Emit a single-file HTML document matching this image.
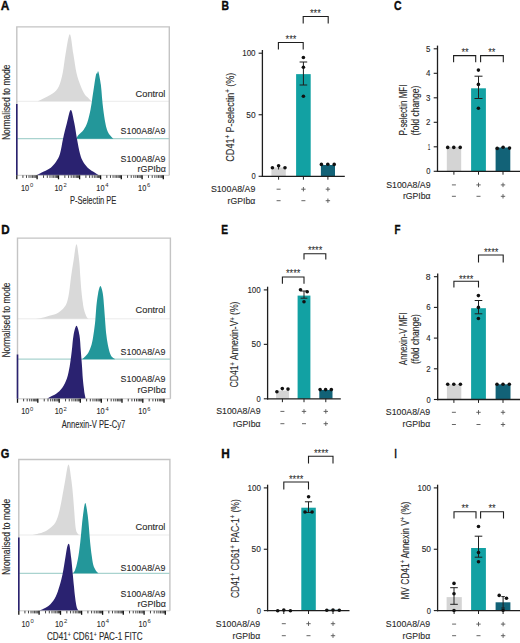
<!DOCTYPE html>
<html><head><meta charset="utf-8"><style>
html,body{margin:0;padding:0;background:#fff;}
body{width:520px;height:643px;overflow:hidden;}
svg{display:block;font-family:"Liberation Sans", sans-serif;}
</style></head><body>
<svg width="520" height="643" viewBox="0 0 520 643">
<rect width="520" height="643" fill="#fff"/>
<text x="0.80" y="10.30" font-size="12" text-anchor="start" font-weight="bold" fill="#0a0a0a" stroke="#0a0a0a" stroke-width="0.35" textLength="8.60" lengthAdjust="spacingAndGlyphs">A</text>
<text x="221.40" y="10.30" font-size="12" text-anchor="start" font-weight="bold" fill="#0a0a0a" stroke="#0a0a0a" stroke-width="0.35" textLength="7.50" lengthAdjust="spacingAndGlyphs">B</text>
<text x="394.00" y="10.40" font-size="12" text-anchor="start" font-weight="bold" fill="#0a0a0a" stroke="#0a0a0a" stroke-width="0.35" textLength="7.60" lengthAdjust="spacingAndGlyphs">C</text>
<text x="1.20" y="233.60" font-size="12" text-anchor="start" font-weight="bold" fill="#0a0a0a" stroke="#0a0a0a" stroke-width="0.35" textLength="8.40" lengthAdjust="spacingAndGlyphs">D</text>
<text x="221.30" y="233.60" font-size="12" text-anchor="start" font-weight="bold" fill="#0a0a0a" stroke="#0a0a0a" stroke-width="0.35" textLength="6.80" lengthAdjust="spacingAndGlyphs">E</text>
<text x="394.50" y="233.60" font-size="12" text-anchor="start" font-weight="bold" fill="#0a0a0a" stroke="#0a0a0a" stroke-width="0.35" textLength="6.00" lengthAdjust="spacingAndGlyphs">F</text>
<text x="0.80" y="457.70" font-size="12" text-anchor="start" font-weight="bold" fill="#0a0a0a" stroke="#0a0a0a" stroke-width="0.35" textLength="8.60" lengthAdjust="spacingAndGlyphs">G</text>
<text x="221.30" y="457.70" font-size="12" text-anchor="start" font-weight="bold" fill="#0a0a0a" stroke="#0a0a0a" stroke-width="0.35" textLength="8.50" lengthAdjust="spacingAndGlyphs">H</text>
<text x="394.50" y="457.70" font-size="12" text-anchor="start" font-weight="bold" fill="#0a0a0a" stroke="#0a0a0a" stroke-width="0.35" textLength="2.20" lengthAdjust="spacingAndGlyphs">I</text>
<line x1="16.80" y1="101.30" x2="169.30" y2="101.30" stroke="#ebebeb" stroke-width="1"/>
<path d="M37.70,101.30 L37.70,101.30 C38.82,100.75 41.85,99.33 44.40,98.00 C46.95,96.67 50.60,95.22 53.00,93.30 C55.40,91.38 57.18,89.88 58.80,86.50 C60.42,83.12 61.57,78.45 62.70,73.00 C63.83,67.55 64.42,60.27 65.60,53.80 C66.78,47.33 68.52,34.20 69.80,34.20 C71.08,34.20 72.18,47.33 73.30,53.80 C74.42,60.27 75.30,67.72 76.50,73.00 C77.70,78.28 79.17,82.00 80.50,85.50 C81.83,89.00 83.17,91.88 84.50,94.00 C85.83,96.12 87.33,96.98 88.50,98.20 C89.67,99.42 91.00,100.78 91.50,101.30 L91.50,101.30 Z" fill="#d9d9d9"/>
<line x1="16.80" y1="138.70" x2="169.30" y2="138.70" stroke="#a9d3cf" stroke-width="1.2"/>
<path d="M76.20,138.70 L76.20,138.50 C76.62,137.87 77.45,136.17 78.70,134.70 C79.95,133.23 82.25,131.77 83.70,129.70 C85.15,127.63 86.27,125.62 87.40,122.30 C88.53,118.98 89.67,113.95 90.50,109.80 C91.33,105.65 91.77,101.55 92.40,97.40 C93.03,93.25 93.68,88.75 94.30,84.90 C94.92,81.05 95.62,76.18 96.10,74.30 C96.58,72.42 96.82,74.02 97.20,73.60 C97.58,73.18 97.78,69.92 98.40,71.80 C99.02,73.68 100.30,80.63 100.90,84.90 C101.50,89.17 101.60,93.25 102.00,97.40 C102.40,101.55 102.77,105.65 103.30,109.80 C103.83,113.95 104.58,118.98 105.20,122.30 C105.82,125.62 106.27,127.63 107.00,129.70 C107.73,131.77 108.57,133.23 109.60,134.70 C110.63,136.17 112.60,137.87 113.20,138.50 L113.20,138.70 Z" fill="#23979a"/>
<path d="M36.00,175.30 L36.00,175.40 C37.30,174.75 41.33,172.78 43.80,171.50 C46.27,170.22 48.73,169.37 50.80,167.70 C52.87,166.03 54.67,163.82 56.20,161.50 C57.73,159.18 58.85,157.63 60.00,153.80 C61.15,149.97 61.95,143.63 63.10,138.50 C64.25,133.37 65.62,127.75 66.90,123.00 C68.18,118.25 69.57,110.00 70.80,110.00 C72.03,110.00 73.28,118.25 74.30,123.00 C75.32,127.75 75.95,133.37 76.90,138.50 C77.85,143.63 78.98,149.97 80.00,153.80 C81.02,157.63 81.72,159.18 83.00,161.50 C84.28,163.82 86.03,166.03 87.70,167.70 C89.37,169.37 91.08,170.22 93.00,171.50 C94.92,172.78 98.17,174.75 99.20,175.40 L99.20,175.30 Z" fill="#2a2270"/>
<path d="M16.80,175.30 L16.80,26.90 L169.30,26.90 L169.30,175.30" fill="none" stroke="#c4c4c4" stroke-width="1.4"/>
<line x1="16.80" y1="175.30" x2="169.30" y2="175.30" stroke="#bbbbbb" stroke-width="0.8"/>
<line x1="16.80" y1="104.00" x2="16.80" y2="175.30" stroke="#2a2270" stroke-width="1.6"/>
<line x1="16.80" y1="175.30" x2="16.80" y2="179.30" stroke="#111" stroke-width="1.3"/>
<line x1="22.91" y1="175.30" x2="22.91" y2="177.90" stroke="#222" stroke-width="0.85"/>
<line x1="26.49" y1="175.30" x2="26.49" y2="177.90" stroke="#222" stroke-width="0.85"/>
<line x1="29.02" y1="175.30" x2="29.02" y2="177.90" stroke="#222" stroke-width="0.85"/>
<line x1="30.99" y1="175.30" x2="30.99" y2="177.90" stroke="#222" stroke-width="0.85"/>
<line x1="32.60" y1="175.30" x2="32.60" y2="177.90" stroke="#222" stroke-width="0.85"/>
<line x1="33.96" y1="175.30" x2="33.96" y2="177.90" stroke="#222" stroke-width="0.85"/>
<line x1="35.13" y1="175.30" x2="35.13" y2="177.90" stroke="#222" stroke-width="0.85"/>
<line x1="36.17" y1="175.30" x2="36.17" y2="177.90" stroke="#222" stroke-width="0.85"/>
<line x1="37.10" y1="175.30" x2="37.10" y2="179.30" stroke="#111" stroke-width="1.3"/>
<line x1="43.54" y1="175.30" x2="43.54" y2="177.90" stroke="#222" stroke-width="0.85"/>
<line x1="47.31" y1="175.30" x2="47.31" y2="177.90" stroke="#222" stroke-width="0.85"/>
<line x1="49.98" y1="175.30" x2="49.98" y2="177.90" stroke="#222" stroke-width="0.85"/>
<line x1="52.06" y1="175.30" x2="52.06" y2="177.90" stroke="#222" stroke-width="0.85"/>
<line x1="53.75" y1="175.30" x2="53.75" y2="177.90" stroke="#222" stroke-width="0.85"/>
<line x1="55.19" y1="175.30" x2="55.19" y2="177.90" stroke="#222" stroke-width="0.85"/>
<line x1="56.43" y1="175.30" x2="56.43" y2="177.90" stroke="#222" stroke-width="0.85"/>
<line x1="57.52" y1="175.30" x2="57.52" y2="177.90" stroke="#222" stroke-width="0.85"/>
<line x1="58.50" y1="175.30" x2="58.50" y2="179.30" stroke="#111" stroke-width="1.3"/>
<line x1="64.85" y1="175.30" x2="64.85" y2="177.90" stroke="#222" stroke-width="0.85"/>
<line x1="68.57" y1="175.30" x2="68.57" y2="177.90" stroke="#222" stroke-width="0.85"/>
<line x1="71.20" y1="175.30" x2="71.20" y2="177.90" stroke="#222" stroke-width="0.85"/>
<line x1="73.25" y1="175.30" x2="73.25" y2="177.90" stroke="#222" stroke-width="0.85"/>
<line x1="74.92" y1="175.30" x2="74.92" y2="177.90" stroke="#222" stroke-width="0.85"/>
<line x1="76.33" y1="175.30" x2="76.33" y2="177.90" stroke="#222" stroke-width="0.85"/>
<line x1="77.56" y1="175.30" x2="77.56" y2="177.90" stroke="#222" stroke-width="0.85"/>
<line x1="78.63" y1="175.30" x2="78.63" y2="177.90" stroke="#222" stroke-width="0.85"/>
<line x1="79.60" y1="175.30" x2="79.60" y2="179.30" stroke="#111" stroke-width="1.3"/>
<line x1="85.92" y1="175.30" x2="85.92" y2="177.90" stroke="#222" stroke-width="0.85"/>
<line x1="89.62" y1="175.30" x2="89.62" y2="177.90" stroke="#222" stroke-width="0.85"/>
<line x1="92.24" y1="175.30" x2="92.24" y2="177.90" stroke="#222" stroke-width="0.85"/>
<line x1="94.28" y1="175.30" x2="94.28" y2="177.90" stroke="#222" stroke-width="0.85"/>
<line x1="95.94" y1="175.30" x2="95.94" y2="177.90" stroke="#222" stroke-width="0.85"/>
<line x1="97.35" y1="175.30" x2="97.35" y2="177.90" stroke="#222" stroke-width="0.85"/>
<line x1="98.56" y1="175.30" x2="98.56" y2="177.90" stroke="#222" stroke-width="0.85"/>
<line x1="99.64" y1="175.30" x2="99.64" y2="177.90" stroke="#222" stroke-width="0.85"/>
<line x1="100.60" y1="175.30" x2="100.60" y2="179.30" stroke="#111" stroke-width="1.3"/>
<line x1="106.83" y1="175.30" x2="106.83" y2="177.90" stroke="#222" stroke-width="0.85"/>
<line x1="110.48" y1="175.30" x2="110.48" y2="177.90" stroke="#222" stroke-width="0.85"/>
<line x1="113.06" y1="175.30" x2="113.06" y2="177.90" stroke="#222" stroke-width="0.85"/>
<line x1="115.07" y1="175.30" x2="115.07" y2="177.90" stroke="#222" stroke-width="0.85"/>
<line x1="116.71" y1="175.30" x2="116.71" y2="177.90" stroke="#222" stroke-width="0.85"/>
<line x1="118.09" y1="175.30" x2="118.09" y2="177.90" stroke="#222" stroke-width="0.85"/>
<line x1="119.29" y1="175.30" x2="119.29" y2="177.90" stroke="#222" stroke-width="0.85"/>
<line x1="120.35" y1="175.30" x2="120.35" y2="177.90" stroke="#222" stroke-width="0.85"/>
<line x1="121.30" y1="175.30" x2="121.30" y2="179.30" stroke="#111" stroke-width="1.3"/>
<line x1="127.56" y1="175.30" x2="127.56" y2="177.90" stroke="#222" stroke-width="0.85"/>
<line x1="131.22" y1="175.30" x2="131.22" y2="177.90" stroke="#222" stroke-width="0.85"/>
<line x1="133.82" y1="175.30" x2="133.82" y2="177.90" stroke="#222" stroke-width="0.85"/>
<line x1="135.84" y1="175.30" x2="135.84" y2="177.90" stroke="#222" stroke-width="0.85"/>
<line x1="137.49" y1="175.30" x2="137.49" y2="177.90" stroke="#222" stroke-width="0.85"/>
<line x1="138.88" y1="175.30" x2="138.88" y2="177.90" stroke="#222" stroke-width="0.85"/>
<line x1="140.08" y1="175.30" x2="140.08" y2="177.90" stroke="#222" stroke-width="0.85"/>
<line x1="141.15" y1="175.30" x2="141.15" y2="177.90" stroke="#222" stroke-width="0.85"/>
<line x1="142.10" y1="175.30" x2="142.10" y2="179.30" stroke="#111" stroke-width="1.3"/>
<line x1="148.48" y1="175.30" x2="148.48" y2="177.90" stroke="#222" stroke-width="0.85"/>
<line x1="152.21" y1="175.30" x2="152.21" y2="177.90" stroke="#222" stroke-width="0.85"/>
<line x1="154.86" y1="175.30" x2="154.86" y2="177.90" stroke="#222" stroke-width="0.85"/>
<line x1="156.92" y1="175.30" x2="156.92" y2="177.90" stroke="#222" stroke-width="0.85"/>
<line x1="158.60" y1="175.30" x2="158.60" y2="177.90" stroke="#222" stroke-width="0.85"/>
<line x1="160.02" y1="175.30" x2="160.02" y2="177.90" stroke="#222" stroke-width="0.85"/>
<line x1="161.25" y1="175.30" x2="161.25" y2="177.90" stroke="#222" stroke-width="0.85"/>
<line x1="162.33" y1="175.30" x2="162.33" y2="177.90" stroke="#222" stroke-width="0.85"/>
<line x1="163.30" y1="175.30" x2="163.30" y2="179.30" stroke="#111" stroke-width="1.3"/>
<text x="21.02" y="191.00" font-size="9.4" fill="#2a2a2a" stroke="#2a2a2a" stroke-width="0.12" textLength="8.2" lengthAdjust="spacingAndGlyphs">10</text>
<text x="29.92" y="187.40" font-size="5.8" fill="#2a2a2a">0</text>
<text x="54.52" y="191.00" font-size="9.4" fill="#2a2a2a" stroke="#2a2a2a" stroke-width="0.12" textLength="8.2" lengthAdjust="spacingAndGlyphs">10</text>
<text x="63.42" y="187.40" font-size="5.8" fill="#2a2a2a">2</text>
<text x="96.33" y="191.00" font-size="9.4" fill="#2a2a2a" stroke="#2a2a2a" stroke-width="0.12" textLength="8.2" lengthAdjust="spacingAndGlyphs">10</text>
<text x="105.23" y="187.40" font-size="5.8" fill="#2a2a2a">4</text>
<text x="138.12" y="191.00" font-size="9.4" fill="#2a2a2a" stroke="#2a2a2a" stroke-width="0.12" textLength="8.2" lengthAdjust="spacingAndGlyphs">10</text>
<text x="147.03" y="187.40" font-size="5.8" fill="#2a2a2a">6</text>
<text x="69.90" y="203.80" font-size="10.5" text-anchor="start" font-weight="normal" fill="#2a2a2a" stroke="#2a2a2a" stroke-width="0.12" textLength="46.50" lengthAdjust="spacingAndGlyphs">P-Selectin PE</text>
<text transform="translate(9.70,102.25) rotate(-90)" x="0" y="0" font-size="10.8" text-anchor="middle" fill="#2a2a2a" stroke="#2a2a2a" stroke-width="0.12" textLength="75.50" lengthAdjust="spacingAndGlyphs">Normalised to mode</text>
<line x1="17.50" y1="318.80" x2="170.40" y2="318.80" stroke="#ebebeb" stroke-width="1"/>
<path d="M33.00,318.80 L33.00,318.80 C34.17,318.72 37.30,318.82 40.00,318.30 C42.70,317.78 46.38,316.52 49.20,315.70 C52.02,314.88 54.58,314.55 56.90,313.40 C59.22,312.25 61.43,310.60 63.10,308.80 C64.77,307.00 65.88,305.43 66.90,302.60 C67.92,299.77 68.50,296.15 69.20,291.80 C69.90,287.45 70.38,281.63 71.10,276.50 C71.82,271.37 72.60,266.38 73.50,261.00 C74.40,255.62 75.55,244.20 76.50,244.20 C77.45,244.20 78.57,255.62 79.20,261.00 C79.83,266.38 79.92,271.37 80.30,276.50 C80.68,281.63 81.08,287.45 81.50,291.80 C81.92,296.15 82.42,299.77 82.80,302.60 C83.18,305.43 83.40,307.00 83.80,308.80 C84.20,310.60 84.70,312.00 85.20,313.40 C85.70,314.80 86.27,316.30 86.80,317.20 C87.33,318.10 88.13,318.53 88.40,318.80 L88.40,318.80 Z" fill="#d9d9d9"/>
<line x1="17.50" y1="359.20" x2="170.40" y2="359.20" stroke="#a9d3cf" stroke-width="1.2"/>
<path d="M82.20,359.20 L82.20,359.20 C82.65,358.78 83.88,357.78 84.90,356.70 C85.92,355.62 87.18,354.72 88.30,352.70 C89.42,350.68 90.72,347.75 91.60,344.60 C92.48,341.45 92.98,337.83 93.60,333.80 C94.22,329.77 94.85,324.88 95.30,320.40 C95.75,315.92 95.83,311.38 96.30,306.90 C96.77,302.42 97.42,296.97 98.10,293.50 C98.78,290.03 99.62,286.10 100.40,286.10 C101.18,286.10 102.18,290.03 102.80,293.50 C103.42,296.97 103.72,302.42 104.10,306.90 C104.48,311.38 104.75,315.92 105.10,320.40 C105.45,324.88 105.75,329.77 106.20,333.80 C106.65,337.83 107.20,341.45 107.80,344.60 C108.40,347.75 109.13,350.68 109.80,352.70 C110.47,354.72 110.90,355.62 111.80,356.70 C112.70,357.78 114.63,358.78 115.20,359.20 L115.20,359.20 Z" fill="#23979a"/>
<path d="M47.00,398.80 L47.00,398.80 C47.50,398.48 48.47,397.73 50.00,396.90 C51.53,396.07 54.15,395.33 56.20,393.80 C58.25,392.27 60.52,390.25 62.30,387.70 C64.08,385.15 65.67,382.08 66.90,378.50 C68.13,374.92 68.88,370.82 69.70,366.20 C70.52,361.58 71.17,355.93 71.80,350.80 C72.43,345.67 72.72,339.57 73.50,335.40 C74.28,331.23 75.50,325.80 76.50,325.80 C77.50,325.80 78.78,331.23 79.50,335.40 C80.22,339.57 80.38,345.67 80.80,350.80 C81.22,355.93 81.67,361.58 82.00,366.20 C82.33,370.82 82.50,374.92 82.80,378.50 C83.10,382.08 83.50,385.15 83.80,387.70 C84.10,390.25 84.28,391.95 84.60,393.80 C84.92,395.65 85.52,397.97 85.70,398.80 L85.70,398.80 Z" fill="#2a2270"/>
<path d="M17.50,398.80 L17.50,238.10 L170.40,238.10 L170.40,398.80" fill="none" stroke="#c4c4c4" stroke-width="1.4"/>
<line x1="17.50" y1="398.80" x2="170.40" y2="398.80" stroke="#bbbbbb" stroke-width="0.8"/>
<line x1="17.50" y1="354.50" x2="17.50" y2="398.80" stroke="#2a2270" stroke-width="1.6"/>
<line x1="17.50" y1="398.80" x2="17.50" y2="402.80" stroke="#111" stroke-width="1.3"/>
<line x1="23.61" y1="398.80" x2="23.61" y2="401.40" stroke="#222" stroke-width="0.85"/>
<line x1="27.19" y1="398.80" x2="27.19" y2="401.40" stroke="#222" stroke-width="0.85"/>
<line x1="29.72" y1="398.80" x2="29.72" y2="401.40" stroke="#222" stroke-width="0.85"/>
<line x1="31.69" y1="398.80" x2="31.69" y2="401.40" stroke="#222" stroke-width="0.85"/>
<line x1="33.30" y1="398.80" x2="33.30" y2="401.40" stroke="#222" stroke-width="0.85"/>
<line x1="34.66" y1="398.80" x2="34.66" y2="401.40" stroke="#222" stroke-width="0.85"/>
<line x1="35.83" y1="398.80" x2="35.83" y2="401.40" stroke="#222" stroke-width="0.85"/>
<line x1="36.87" y1="398.80" x2="36.87" y2="401.40" stroke="#222" stroke-width="0.85"/>
<line x1="37.80" y1="398.80" x2="37.80" y2="402.80" stroke="#111" stroke-width="1.3"/>
<line x1="44.24" y1="398.80" x2="44.24" y2="401.40" stroke="#222" stroke-width="0.85"/>
<line x1="48.01" y1="398.80" x2="48.01" y2="401.40" stroke="#222" stroke-width="0.85"/>
<line x1="50.68" y1="398.80" x2="50.68" y2="401.40" stroke="#222" stroke-width="0.85"/>
<line x1="52.76" y1="398.80" x2="52.76" y2="401.40" stroke="#222" stroke-width="0.85"/>
<line x1="54.45" y1="398.80" x2="54.45" y2="401.40" stroke="#222" stroke-width="0.85"/>
<line x1="55.89" y1="398.80" x2="55.89" y2="401.40" stroke="#222" stroke-width="0.85"/>
<line x1="57.13" y1="398.80" x2="57.13" y2="401.40" stroke="#222" stroke-width="0.85"/>
<line x1="58.22" y1="398.80" x2="58.22" y2="401.40" stroke="#222" stroke-width="0.85"/>
<line x1="59.20" y1="398.80" x2="59.20" y2="402.80" stroke="#111" stroke-width="1.3"/>
<line x1="65.55" y1="398.80" x2="65.55" y2="401.40" stroke="#222" stroke-width="0.85"/>
<line x1="69.27" y1="398.80" x2="69.27" y2="401.40" stroke="#222" stroke-width="0.85"/>
<line x1="71.90" y1="398.80" x2="71.90" y2="401.40" stroke="#222" stroke-width="0.85"/>
<line x1="73.95" y1="398.80" x2="73.95" y2="401.40" stroke="#222" stroke-width="0.85"/>
<line x1="75.62" y1="398.80" x2="75.62" y2="401.40" stroke="#222" stroke-width="0.85"/>
<line x1="77.03" y1="398.80" x2="77.03" y2="401.40" stroke="#222" stroke-width="0.85"/>
<line x1="78.26" y1="398.80" x2="78.26" y2="401.40" stroke="#222" stroke-width="0.85"/>
<line x1="79.33" y1="398.80" x2="79.33" y2="401.40" stroke="#222" stroke-width="0.85"/>
<line x1="80.30" y1="398.80" x2="80.30" y2="402.80" stroke="#111" stroke-width="1.3"/>
<line x1="86.62" y1="398.80" x2="86.62" y2="401.40" stroke="#222" stroke-width="0.85"/>
<line x1="90.32" y1="398.80" x2="90.32" y2="401.40" stroke="#222" stroke-width="0.85"/>
<line x1="92.94" y1="398.80" x2="92.94" y2="401.40" stroke="#222" stroke-width="0.85"/>
<line x1="94.98" y1="398.80" x2="94.98" y2="401.40" stroke="#222" stroke-width="0.85"/>
<line x1="96.64" y1="398.80" x2="96.64" y2="401.40" stroke="#222" stroke-width="0.85"/>
<line x1="98.05" y1="398.80" x2="98.05" y2="401.40" stroke="#222" stroke-width="0.85"/>
<line x1="99.26" y1="398.80" x2="99.26" y2="401.40" stroke="#222" stroke-width="0.85"/>
<line x1="100.34" y1="398.80" x2="100.34" y2="401.40" stroke="#222" stroke-width="0.85"/>
<line x1="101.30" y1="398.80" x2="101.30" y2="402.80" stroke="#111" stroke-width="1.3"/>
<line x1="107.53" y1="398.80" x2="107.53" y2="401.40" stroke="#222" stroke-width="0.85"/>
<line x1="111.18" y1="398.80" x2="111.18" y2="401.40" stroke="#222" stroke-width="0.85"/>
<line x1="113.76" y1="398.80" x2="113.76" y2="401.40" stroke="#222" stroke-width="0.85"/>
<line x1="115.77" y1="398.80" x2="115.77" y2="401.40" stroke="#222" stroke-width="0.85"/>
<line x1="117.41" y1="398.80" x2="117.41" y2="401.40" stroke="#222" stroke-width="0.85"/>
<line x1="118.79" y1="398.80" x2="118.79" y2="401.40" stroke="#222" stroke-width="0.85"/>
<line x1="119.99" y1="398.80" x2="119.99" y2="401.40" stroke="#222" stroke-width="0.85"/>
<line x1="121.05" y1="398.80" x2="121.05" y2="401.40" stroke="#222" stroke-width="0.85"/>
<line x1="122.00" y1="398.80" x2="122.00" y2="402.80" stroke="#111" stroke-width="1.3"/>
<line x1="128.26" y1="398.80" x2="128.26" y2="401.40" stroke="#222" stroke-width="0.85"/>
<line x1="131.92" y1="398.80" x2="131.92" y2="401.40" stroke="#222" stroke-width="0.85"/>
<line x1="134.52" y1="398.80" x2="134.52" y2="401.40" stroke="#222" stroke-width="0.85"/>
<line x1="136.54" y1="398.80" x2="136.54" y2="401.40" stroke="#222" stroke-width="0.85"/>
<line x1="138.19" y1="398.80" x2="138.19" y2="401.40" stroke="#222" stroke-width="0.85"/>
<line x1="139.58" y1="398.80" x2="139.58" y2="401.40" stroke="#222" stroke-width="0.85"/>
<line x1="140.78" y1="398.80" x2="140.78" y2="401.40" stroke="#222" stroke-width="0.85"/>
<line x1="141.85" y1="398.80" x2="141.85" y2="401.40" stroke="#222" stroke-width="0.85"/>
<line x1="142.80" y1="398.80" x2="142.80" y2="402.80" stroke="#111" stroke-width="1.3"/>
<line x1="149.18" y1="398.80" x2="149.18" y2="401.40" stroke="#222" stroke-width="0.85"/>
<line x1="152.91" y1="398.80" x2="152.91" y2="401.40" stroke="#222" stroke-width="0.85"/>
<line x1="155.56" y1="398.80" x2="155.56" y2="401.40" stroke="#222" stroke-width="0.85"/>
<line x1="157.62" y1="398.80" x2="157.62" y2="401.40" stroke="#222" stroke-width="0.85"/>
<line x1="159.30" y1="398.80" x2="159.30" y2="401.40" stroke="#222" stroke-width="0.85"/>
<line x1="160.72" y1="398.80" x2="160.72" y2="401.40" stroke="#222" stroke-width="0.85"/>
<line x1="161.95" y1="398.80" x2="161.95" y2="401.40" stroke="#222" stroke-width="0.85"/>
<line x1="163.03" y1="398.80" x2="163.03" y2="401.40" stroke="#222" stroke-width="0.85"/>
<line x1="164.00" y1="398.80" x2="164.00" y2="402.80" stroke="#111" stroke-width="1.3"/>
<text x="21.20" y="414.10" font-size="9.4" fill="#2a2a2a" stroke="#2a2a2a" stroke-width="0.12" textLength="8.2" lengthAdjust="spacingAndGlyphs">10</text>
<text x="30.10" y="410.50" font-size="5.8" fill="#2a2a2a">0</text>
<text x="54.70" y="414.10" font-size="9.4" fill="#2a2a2a" stroke="#2a2a2a" stroke-width="0.12" textLength="8.2" lengthAdjust="spacingAndGlyphs">10</text>
<text x="63.60" y="410.50" font-size="5.8" fill="#2a2a2a">2</text>
<text x="96.50" y="414.10" font-size="9.4" fill="#2a2a2a" stroke="#2a2a2a" stroke-width="0.12" textLength="8.2" lengthAdjust="spacingAndGlyphs">10</text>
<text x="105.40" y="410.50" font-size="5.8" fill="#2a2a2a">4</text>
<text x="138.30" y="414.10" font-size="9.4" fill="#2a2a2a" stroke="#2a2a2a" stroke-width="0.12" textLength="8.2" lengthAdjust="spacingAndGlyphs">10</text>
<text x="147.20" y="410.50" font-size="5.8" fill="#2a2a2a">6</text>
<text x="61.80" y="428.20" font-size="10.5" text-anchor="start" font-weight="normal" fill="#2a2a2a" stroke="#2a2a2a" stroke-width="0.12" textLength="63.40" lengthAdjust="spacingAndGlyphs">Annexin-V PE-Cy7</text>
<text transform="translate(9.70,320.00) rotate(-90)" x="0" y="0" font-size="10.8" text-anchor="middle" fill="#2a2a2a" stroke="#2a2a2a" stroke-width="0.12" textLength="75.00" lengthAdjust="spacingAndGlyphs">Normalised to mode</text>
<line x1="18.80" y1="535.00" x2="169.90" y2="535.00" stroke="#ebebeb" stroke-width="1"/>
<path d="M33.00,535.00 L33.00,535.00 C34.55,534.60 39.60,533.63 42.30,532.60 C45.00,531.57 47.02,530.47 49.20,528.80 C51.38,527.13 53.73,525.43 55.40,522.60 C57.07,519.77 58.05,516.15 59.20,511.80 C60.35,507.45 61.32,501.62 62.30,496.50 C63.28,491.38 64.07,486.43 65.10,481.10 C66.13,475.77 67.43,464.50 68.50,464.50 C69.57,464.50 70.73,475.77 71.50,481.10 C72.27,486.43 72.63,491.38 73.10,496.50 C73.57,501.62 73.97,507.45 74.30,511.80 C74.63,516.15 74.85,519.77 75.10,522.60 C75.35,525.43 75.50,527.13 75.80,528.80 C76.10,530.47 76.38,531.57 76.90,532.60 C77.42,533.63 78.57,534.60 78.90,535.00 L78.90,535.00 Z" fill="#d9d9d9"/>
<line x1="18.80" y1="573.30" x2="169.90" y2="573.30" stroke="#a9d3cf" stroke-width="1.2"/>
<path d="M72.90,573.30 L72.90,573.30 C73.23,572.82 74.28,571.78 74.90,570.40 C75.52,569.02 76.00,567.47 76.60,565.00 C77.20,562.53 77.88,559.42 78.50,555.60 C79.12,551.78 79.78,546.60 80.30,542.10 C80.82,537.60 81.15,533.08 81.60,528.60 C82.05,524.12 82.38,519.45 83.00,515.20 C83.62,510.95 84.52,503.10 85.30,503.10 C86.08,503.10 87.08,510.95 87.70,515.20 C88.32,519.45 88.60,524.12 89.00,528.60 C89.40,533.08 89.65,537.60 90.10,542.10 C90.55,546.60 91.17,551.78 91.70,555.60 C92.23,559.42 92.62,562.53 93.30,565.00 C93.98,567.47 94.93,569.02 95.80,570.40 C96.67,571.78 98.05,572.82 98.50,573.30 L98.50,573.30 Z" fill="#23979a"/>
<path d="M38.80,610.80 L38.80,610.80 C39.58,610.47 41.57,609.90 43.50,608.80 C45.43,607.70 48.35,606.25 50.40,604.20 C52.45,602.15 54.27,599.57 55.80,596.50 C57.33,593.43 58.45,589.63 59.60,585.80 C60.75,581.97 61.75,578.12 62.70,573.50 C63.65,568.88 64.53,562.60 65.30,558.10 C66.07,553.60 66.63,548.77 67.30,546.50 C67.97,544.23 68.65,542.57 69.30,544.50 C69.95,546.43 70.63,553.27 71.20,558.10 C71.77,562.93 72.25,568.88 72.70,573.50 C73.15,578.12 73.52,581.97 73.90,585.80 C74.28,589.63 74.63,593.43 75.00,596.50 C75.37,599.57 75.72,602.15 76.10,604.20 C76.48,606.25 76.85,607.70 77.30,608.80 C77.75,609.90 78.55,610.47 78.80,610.80 L78.80,610.80 Z" fill="#2a2270"/>
<path d="M18.80,610.80 L18.80,459.50 L169.90,459.50 L169.90,610.80" fill="none" stroke="#c4c4c4" stroke-width="1.4"/>
<line x1="18.80" y1="610.80" x2="169.90" y2="610.80" stroke="#bbbbbb" stroke-width="0.8"/>
<line x1="18.80" y1="537.50" x2="18.80" y2="610.80" stroke="#2a2270" stroke-width="1.6"/>
<line x1="18.80" y1="610.80" x2="18.80" y2="614.80" stroke="#111" stroke-width="1.3"/>
<line x1="24.91" y1="610.80" x2="24.91" y2="613.40" stroke="#222" stroke-width="0.85"/>
<line x1="28.49" y1="610.80" x2="28.49" y2="613.40" stroke="#222" stroke-width="0.85"/>
<line x1="31.02" y1="610.80" x2="31.02" y2="613.40" stroke="#222" stroke-width="0.85"/>
<line x1="32.99" y1="610.80" x2="32.99" y2="613.40" stroke="#222" stroke-width="0.85"/>
<line x1="34.60" y1="610.80" x2="34.60" y2="613.40" stroke="#222" stroke-width="0.85"/>
<line x1="35.96" y1="610.80" x2="35.96" y2="613.40" stroke="#222" stroke-width="0.85"/>
<line x1="37.13" y1="610.80" x2="37.13" y2="613.40" stroke="#222" stroke-width="0.85"/>
<line x1="38.17" y1="610.80" x2="38.17" y2="613.40" stroke="#222" stroke-width="0.85"/>
<line x1="39.10" y1="610.80" x2="39.10" y2="614.80" stroke="#111" stroke-width="1.3"/>
<line x1="45.54" y1="610.80" x2="45.54" y2="613.40" stroke="#222" stroke-width="0.85"/>
<line x1="49.31" y1="610.80" x2="49.31" y2="613.40" stroke="#222" stroke-width="0.85"/>
<line x1="51.98" y1="610.80" x2="51.98" y2="613.40" stroke="#222" stroke-width="0.85"/>
<line x1="54.06" y1="610.80" x2="54.06" y2="613.40" stroke="#222" stroke-width="0.85"/>
<line x1="55.75" y1="610.80" x2="55.75" y2="613.40" stroke="#222" stroke-width="0.85"/>
<line x1="57.19" y1="610.80" x2="57.19" y2="613.40" stroke="#222" stroke-width="0.85"/>
<line x1="58.43" y1="610.80" x2="58.43" y2="613.40" stroke="#222" stroke-width="0.85"/>
<line x1="59.52" y1="610.80" x2="59.52" y2="613.40" stroke="#222" stroke-width="0.85"/>
<line x1="60.50" y1="610.80" x2="60.50" y2="614.80" stroke="#111" stroke-width="1.3"/>
<line x1="66.85" y1="610.80" x2="66.85" y2="613.40" stroke="#222" stroke-width="0.85"/>
<line x1="70.57" y1="610.80" x2="70.57" y2="613.40" stroke="#222" stroke-width="0.85"/>
<line x1="73.20" y1="610.80" x2="73.20" y2="613.40" stroke="#222" stroke-width="0.85"/>
<line x1="75.25" y1="610.80" x2="75.25" y2="613.40" stroke="#222" stroke-width="0.85"/>
<line x1="76.92" y1="610.80" x2="76.92" y2="613.40" stroke="#222" stroke-width="0.85"/>
<line x1="78.33" y1="610.80" x2="78.33" y2="613.40" stroke="#222" stroke-width="0.85"/>
<line x1="79.56" y1="610.80" x2="79.56" y2="613.40" stroke="#222" stroke-width="0.85"/>
<line x1="80.63" y1="610.80" x2="80.63" y2="613.40" stroke="#222" stroke-width="0.85"/>
<line x1="81.60" y1="610.80" x2="81.60" y2="614.80" stroke="#111" stroke-width="1.3"/>
<line x1="87.92" y1="610.80" x2="87.92" y2="613.40" stroke="#222" stroke-width="0.85"/>
<line x1="91.62" y1="610.80" x2="91.62" y2="613.40" stroke="#222" stroke-width="0.85"/>
<line x1="94.24" y1="610.80" x2="94.24" y2="613.40" stroke="#222" stroke-width="0.85"/>
<line x1="96.28" y1="610.80" x2="96.28" y2="613.40" stroke="#222" stroke-width="0.85"/>
<line x1="97.94" y1="610.80" x2="97.94" y2="613.40" stroke="#222" stroke-width="0.85"/>
<line x1="99.35" y1="610.80" x2="99.35" y2="613.40" stroke="#222" stroke-width="0.85"/>
<line x1="100.56" y1="610.80" x2="100.56" y2="613.40" stroke="#222" stroke-width="0.85"/>
<line x1="101.64" y1="610.80" x2="101.64" y2="613.40" stroke="#222" stroke-width="0.85"/>
<line x1="102.60" y1="610.80" x2="102.60" y2="614.80" stroke="#111" stroke-width="1.3"/>
<line x1="108.83" y1="610.80" x2="108.83" y2="613.40" stroke="#222" stroke-width="0.85"/>
<line x1="112.48" y1="610.80" x2="112.48" y2="613.40" stroke="#222" stroke-width="0.85"/>
<line x1="115.06" y1="610.80" x2="115.06" y2="613.40" stroke="#222" stroke-width="0.85"/>
<line x1="117.07" y1="610.80" x2="117.07" y2="613.40" stroke="#222" stroke-width="0.85"/>
<line x1="118.71" y1="610.80" x2="118.71" y2="613.40" stroke="#222" stroke-width="0.85"/>
<line x1="120.09" y1="610.80" x2="120.09" y2="613.40" stroke="#222" stroke-width="0.85"/>
<line x1="121.29" y1="610.80" x2="121.29" y2="613.40" stroke="#222" stroke-width="0.85"/>
<line x1="122.35" y1="610.80" x2="122.35" y2="613.40" stroke="#222" stroke-width="0.85"/>
<line x1="123.30" y1="610.80" x2="123.30" y2="614.80" stroke="#111" stroke-width="1.3"/>
<line x1="129.56" y1="610.80" x2="129.56" y2="613.40" stroke="#222" stroke-width="0.85"/>
<line x1="133.22" y1="610.80" x2="133.22" y2="613.40" stroke="#222" stroke-width="0.85"/>
<line x1="135.82" y1="610.80" x2="135.82" y2="613.40" stroke="#222" stroke-width="0.85"/>
<line x1="137.84" y1="610.80" x2="137.84" y2="613.40" stroke="#222" stroke-width="0.85"/>
<line x1="139.49" y1="610.80" x2="139.49" y2="613.40" stroke="#222" stroke-width="0.85"/>
<line x1="140.88" y1="610.80" x2="140.88" y2="613.40" stroke="#222" stroke-width="0.85"/>
<line x1="142.08" y1="610.80" x2="142.08" y2="613.40" stroke="#222" stroke-width="0.85"/>
<line x1="143.15" y1="610.80" x2="143.15" y2="613.40" stroke="#222" stroke-width="0.85"/>
<line x1="144.10" y1="610.80" x2="144.10" y2="614.80" stroke="#111" stroke-width="1.3"/>
<line x1="150.48" y1="610.80" x2="150.48" y2="613.40" stroke="#222" stroke-width="0.85"/>
<line x1="154.21" y1="610.80" x2="154.21" y2="613.40" stroke="#222" stroke-width="0.85"/>
<line x1="156.86" y1="610.80" x2="156.86" y2="613.40" stroke="#222" stroke-width="0.85"/>
<line x1="158.92" y1="610.80" x2="158.92" y2="613.40" stroke="#222" stroke-width="0.85"/>
<line x1="160.60" y1="610.80" x2="160.60" y2="613.40" stroke="#222" stroke-width="0.85"/>
<line x1="162.02" y1="610.80" x2="162.02" y2="613.40" stroke="#222" stroke-width="0.85"/>
<line x1="163.25" y1="610.80" x2="163.25" y2="613.40" stroke="#222" stroke-width="0.85"/>
<line x1="164.33" y1="610.80" x2="164.33" y2="613.40" stroke="#222" stroke-width="0.85"/>
<line x1="165.30" y1="610.80" x2="165.30" y2="614.80" stroke="#111" stroke-width="1.3"/>
<text x="21.52" y="626.50" font-size="9.4" fill="#2a2a2a" stroke="#2a2a2a" stroke-width="0.12" textLength="8.2" lengthAdjust="spacingAndGlyphs">10</text>
<text x="30.42" y="622.90" font-size="5.8" fill="#2a2a2a">0</text>
<text x="55.02" y="626.50" font-size="9.4" fill="#2a2a2a" stroke="#2a2a2a" stroke-width="0.12" textLength="8.2" lengthAdjust="spacingAndGlyphs">10</text>
<text x="63.92" y="622.90" font-size="5.8" fill="#2a2a2a">2</text>
<text x="96.83" y="626.50" font-size="9.4" fill="#2a2a2a" stroke="#2a2a2a" stroke-width="0.12" textLength="8.2" lengthAdjust="spacingAndGlyphs">10</text>
<text x="105.73" y="622.90" font-size="5.8" fill="#2a2a2a">4</text>
<text x="138.62" y="626.50" font-size="9.4" fill="#2a2a2a" stroke="#2a2a2a" stroke-width="0.12" textLength="8.2" lengthAdjust="spacingAndGlyphs">10</text>
<text x="147.53" y="622.90" font-size="5.8" fill="#2a2a2a">6</text>
<text x="47.00" y="640.30" font-size="10.5" text-anchor="start" font-weight="normal" fill="#2a2a2a" stroke="#2a2a2a" stroke-width="0.12" textLength="95.50" lengthAdjust="spacingAndGlyphs">CD41<tspan font-size="6.5" dy="-3.5">+</tspan><tspan dy="3.5"> CD61</tspan><tspan font-size="6.5" dy="-3.5">+</tspan><tspan dy="3.5"> PAC-1 FITC</tspan></text>
<text transform="translate(9.70,536.88) rotate(-90)" x="0" y="0" font-size="10.8" text-anchor="middle" fill="#2a2a2a" stroke="#2a2a2a" stroke-width="0.12" textLength="76.25" lengthAdjust="spacingAndGlyphs">Nromalised to mode</text>
<text x="165.40" y="97.00" font-size="9.8" text-anchor="end" font-weight="normal" fill="#2a2a2a" stroke="#2a2a2a" stroke-width="0.12" textLength="29.80" lengthAdjust="spacingAndGlyphs">Control</text>
<text x="165.40" y="134.20" font-size="9.8" text-anchor="end" font-weight="normal" fill="#2a2a2a" stroke="#2a2a2a" stroke-width="0.12" textLength="44.80" lengthAdjust="spacingAndGlyphs">S100A8/A9</text>
<text x="165.40" y="162.20" font-size="9.8" text-anchor="end" font-weight="normal" fill="#2a2a2a" stroke="#2a2a2a" stroke-width="0.12" textLength="44.80" lengthAdjust="spacingAndGlyphs">S100A8/A9</text>
<text x="165.90" y="172.40" font-size="9.8" text-anchor="end" font-weight="normal" fill="#2a2a2a" stroke="#2a2a2a" stroke-width="0.12" textLength="28.40" lengthAdjust="spacingAndGlyphs">rGPIbα</text>
<text x="165.40" y="313.30" font-size="9.8" text-anchor="end" font-weight="normal" fill="#2a2a2a" stroke="#2a2a2a" stroke-width="0.12" textLength="29.80" lengthAdjust="spacingAndGlyphs">Control</text>
<text x="165.40" y="354.50" font-size="9.8" text-anchor="end" font-weight="normal" fill="#2a2a2a" stroke="#2a2a2a" stroke-width="0.12" textLength="44.80" lengthAdjust="spacingAndGlyphs">S100A8/A9</text>
<text x="165.40" y="382.00" font-size="9.8" text-anchor="end" font-weight="normal" fill="#2a2a2a" stroke="#2a2a2a" stroke-width="0.12" textLength="44.80" lengthAdjust="spacingAndGlyphs">S100A8/A9</text>
<text x="165.90" y="392.50" font-size="9.8" text-anchor="end" font-weight="normal" fill="#2a2a2a" stroke="#2a2a2a" stroke-width="0.12" textLength="28.40" lengthAdjust="spacingAndGlyphs">rGPIbα</text>
<text x="165.40" y="530.10" font-size="9.8" text-anchor="end" font-weight="normal" fill="#2a2a2a" stroke="#2a2a2a" stroke-width="0.12" textLength="29.80" lengthAdjust="spacingAndGlyphs">Control</text>
<text x="165.40" y="571.30" font-size="9.8" text-anchor="end" font-weight="normal" fill="#2a2a2a" stroke="#2a2a2a" stroke-width="0.12" textLength="44.80" lengthAdjust="spacingAndGlyphs">S100A8/A9</text>
<text x="165.40" y="596.80" font-size="9.8" text-anchor="end" font-weight="normal" fill="#2a2a2a" stroke="#2a2a2a" stroke-width="0.12" textLength="44.80" lengthAdjust="spacingAndGlyphs">S100A8/A9</text>
<text x="165.90" y="607.00" font-size="9.8" text-anchor="end" font-weight="normal" fill="#2a2a2a" stroke="#2a2a2a" stroke-width="0.12" textLength="28.40" lengthAdjust="spacingAndGlyphs">rGPIbα</text>
<rect x="271.40" y="167.44" width="14.40" height="8.86" fill="#d4d4d4"/>
<rect x="296.10" y="74.13" width="14.60" height="102.17" fill="#12a1a3"/>
<rect x="320.90" y="165.00" width="14.10" height="11.30" fill="#126277"/>
<line x1="303.40" y1="62.00" x2="303.40" y2="85.00" stroke="#1e1e1e" stroke-width="1.0"/>
<line x1="299.60" y1="62.00" x2="307.20" y2="62.00" stroke="#1e1e1e" stroke-width="1.0"/>
<line x1="299.60" y1="85.00" x2="307.20" y2="85.00" stroke="#1e1e1e" stroke-width="1.0"/>
<line x1="278.60" y1="165.00" x2="278.60" y2="169.50" stroke="#1e1e1e" stroke-width="1.0"/>
<line x1="278.60" y1="165.00" x2="278.60" y2="165.00" stroke="#1e1e1e" stroke-width="1.0"/>
<line x1="278.60" y1="169.50" x2="278.60" y2="169.50" stroke="#1e1e1e" stroke-width="1.0"/>
<line x1="262.40" y1="50.00" x2="262.40" y2="176.95" stroke="#1e1e1e" stroke-width="1.3"/>
<line x1="261.75" y1="176.30" x2="344.80" y2="176.30" stroke="#1e1e1e" stroke-width="1.3"/>
<line x1="258.60" y1="53.20" x2="262.40" y2="53.20" stroke="#1e1e1e" stroke-width="1.1"/>
<text x="255.60" y="56.20" font-size="9.4" text-anchor="end" font-weight="normal" fill="#2a2a2a" stroke="#2a2a2a" stroke-width="0.12" textLength="13.40" lengthAdjust="spacingAndGlyphs">100</text>
<line x1="258.60" y1="114.75" x2="262.40" y2="114.75" stroke="#1e1e1e" stroke-width="1.1"/>
<text x="255.60" y="117.75" font-size="9.4" text-anchor="end" font-weight="normal" fill="#2a2a2a" stroke="#2a2a2a" stroke-width="0.12" textLength="9.30" lengthAdjust="spacingAndGlyphs">50</text>
<line x1="258.60" y1="176.30" x2="262.40" y2="176.30" stroke="#1e1e1e" stroke-width="1.1"/>
<text x="255.60" y="179.30" font-size="9.4" text-anchor="end" font-weight="normal" fill="#2a2a2a" stroke="#2a2a2a" stroke-width="0.12" textLength="4.20" lengthAdjust="spacingAndGlyphs">0</text>
<line x1="278.60" y1="176.30" x2="278.60" y2="179.70" stroke="#1e1e1e" stroke-width="1.0"/>
<line x1="303.40" y1="176.30" x2="303.40" y2="179.70" stroke="#1e1e1e" stroke-width="1.0"/>
<line x1="327.90" y1="176.30" x2="327.90" y2="179.70" stroke="#1e1e1e" stroke-width="1.0"/>
<circle cx="272.40" cy="167.80" r="1.8" fill="#111"/>
<circle cx="278.60" cy="165.70" r="1.8" fill="#111"/>
<circle cx="285.00" cy="167.80" r="1.8" fill="#111"/>
<circle cx="303.40" cy="57.50" r="1.8" fill="#111"/>
<circle cx="303.40" cy="67.30" r="1.8" fill="#111"/>
<circle cx="303.40" cy="96.30" r="1.8" fill="#111"/>
<circle cx="321.40" cy="164.40" r="1.8" fill="#111"/>
<circle cx="327.80" cy="164.20" r="1.8" fill="#111"/>
<circle cx="334.20" cy="164.40" r="1.8" fill="#111"/>
<path d="M278.40,49.40 L278.40,42.50 L303.20,42.50 L303.20,49.40" fill="none" stroke="#1e1e1e" stroke-width="1.1"/>
<path d="M303.20,23.50 L303.20,16.50 L328.20,16.50 L328.20,23.50" fill="none" stroke="#1e1e1e" stroke-width="1.1"/>
<text x="291.00" y="42.90" font-size="11" text-anchor="middle" fill="#1e1e1e" textLength="10.80" lengthAdjust="spacingAndGlyphs">***</text>
<text x="315.40" y="16.80" font-size="11" text-anchor="middle" fill="#1e1e1e" textLength="10.80" lengthAdjust="spacingAndGlyphs">***</text>
<text x="255.30" y="192.10" font-size="9.3" text-anchor="end" font-weight="normal" fill="#2a2a2a" stroke="#2a2a2a" stroke-width="0.12" textLength="44.40" lengthAdjust="spacingAndGlyphs">S100A8/A9</text>
<text x="255.30" y="203.60" font-size="9.3" text-anchor="end" font-weight="normal" fill="#2a2a2a" stroke="#2a2a2a" stroke-width="0.12" textLength="27.70" lengthAdjust="spacingAndGlyphs">rGPIbα</text>
<line x1="276.60" y1="189.20" x2="280.60" y2="189.20" stroke="#555" stroke-width="0.9"/>
<line x1="276.60" y1="200.70" x2="280.60" y2="200.70" stroke="#555" stroke-width="0.9"/>
<line x1="301.20" y1="189.20" x2="305.60" y2="189.20" stroke="#555" stroke-width="0.9"/>
<line x1="303.40" y1="187.00" x2="303.40" y2="191.40" stroke="#555" stroke-width="0.9"/>
<line x1="301.40" y1="200.70" x2="305.40" y2="200.70" stroke="#555" stroke-width="0.9"/>
<line x1="325.70" y1="189.20" x2="330.10" y2="189.20" stroke="#555" stroke-width="0.9"/>
<line x1="327.90" y1="187.00" x2="327.90" y2="191.40" stroke="#555" stroke-width="0.9"/>
<line x1="325.70" y1="200.70" x2="330.10" y2="200.70" stroke="#555" stroke-width="0.9"/>
<line x1="327.90" y1="198.50" x2="327.90" y2="202.90" stroke="#555" stroke-width="0.9"/>
<text transform="translate(233.60,117.20) rotate(-90)" x="0" y="0" font-size="10" text-anchor="middle" fill="#2a2a2a" stroke="#2a2a2a" stroke-width="0.12" textLength="89.00" lengthAdjust="spacingAndGlyphs">CD41<tspan font-size="6.5" dy="-3.6">+</tspan><tspan dy="3.6"> P-selectin<tspan font-size="6.5" dy="-3.6">+</tspan><tspan dy="3.6"> (%)</tspan></tspan></text>
<rect x="446.80" y="146.80" width="14.40" height="24.50" fill="#d4d4d4"/>
<rect x="471.10" y="88.30" width="14.80" height="83.00" fill="#12a1a3"/>
<rect x="495.60" y="147.53" width="14.70" height="23.77" fill="#126277"/>
<line x1="478.50" y1="76.20" x2="478.50" y2="98.50" stroke="#1e1e1e" stroke-width="1.0"/>
<line x1="474.50" y1="76.20" x2="482.50" y2="76.20" stroke="#1e1e1e" stroke-width="1.0"/>
<line x1="474.50" y1="98.50" x2="482.50" y2="98.50" stroke="#1e1e1e" stroke-width="1.0"/>
<line x1="437.50" y1="45.60" x2="437.50" y2="171.95" stroke="#1e1e1e" stroke-width="1.3"/>
<line x1="436.85" y1="171.30" x2="520.00" y2="171.30" stroke="#1e1e1e" stroke-width="1.3"/>
<line x1="433.70" y1="48.80" x2="437.50" y2="48.80" stroke="#1e1e1e" stroke-width="1.1"/>
<text x="430.40" y="51.80" font-size="9.4" text-anchor="end" font-weight="normal" fill="#2a2a2a" stroke="#2a2a2a" stroke-width="0.12" textLength="4.40" lengthAdjust="spacingAndGlyphs">5</text>
<line x1="433.70" y1="73.30" x2="437.50" y2="73.30" stroke="#1e1e1e" stroke-width="1.1"/>
<text x="430.40" y="76.30" font-size="9.4" text-anchor="end" font-weight="normal" fill="#2a2a2a" stroke="#2a2a2a" stroke-width="0.12" textLength="4.40" lengthAdjust="spacingAndGlyphs">4</text>
<line x1="433.70" y1="97.80" x2="437.50" y2="97.80" stroke="#1e1e1e" stroke-width="1.1"/>
<text x="430.40" y="100.80" font-size="9.4" text-anchor="end" font-weight="normal" fill="#2a2a2a" stroke="#2a2a2a" stroke-width="0.12" textLength="4.40" lengthAdjust="spacingAndGlyphs">3</text>
<line x1="433.70" y1="122.30" x2="437.50" y2="122.30" stroke="#1e1e1e" stroke-width="1.1"/>
<text x="430.40" y="125.30" font-size="9.4" text-anchor="end" font-weight="normal" fill="#2a2a2a" stroke="#2a2a2a" stroke-width="0.12" textLength="4.40" lengthAdjust="spacingAndGlyphs">2</text>
<line x1="433.70" y1="146.80" x2="437.50" y2="146.80" stroke="#1e1e1e" stroke-width="1.1"/>
<text x="430.40" y="149.80" font-size="9.4" text-anchor="end" font-weight="normal" fill="#2a2a2a" stroke="#2a2a2a" stroke-width="0.12" textLength="2.60" lengthAdjust="spacingAndGlyphs">1</text>
<line x1="433.70" y1="171.30" x2="437.50" y2="171.30" stroke="#1e1e1e" stroke-width="1.1"/>
<text x="430.40" y="174.30" font-size="9.4" text-anchor="end" font-weight="normal" fill="#2a2a2a" stroke="#2a2a2a" stroke-width="0.12" textLength="4.20" lengthAdjust="spacingAndGlyphs">0</text>
<line x1="453.90" y1="171.30" x2="453.90" y2="174.70" stroke="#1e1e1e" stroke-width="1.0"/>
<line x1="478.50" y1="171.30" x2="478.50" y2="174.70" stroke="#1e1e1e" stroke-width="1.0"/>
<line x1="503.00" y1="171.30" x2="503.00" y2="174.70" stroke="#1e1e1e" stroke-width="1.0"/>
<circle cx="447.70" cy="147.40" r="1.8" fill="#111"/>
<circle cx="453.80" cy="147.40" r="1.8" fill="#111"/>
<circle cx="460.20" cy="147.40" r="1.8" fill="#111"/>
<circle cx="478.40" cy="70.10" r="1.8" fill="#111"/>
<circle cx="478.40" cy="84.40" r="1.8" fill="#111"/>
<circle cx="478.40" cy="108.30" r="1.8" fill="#111"/>
<circle cx="497.20" cy="148.40" r="1.8" fill="#111"/>
<circle cx="503.10" cy="147.20" r="1.8" fill="#111"/>
<circle cx="509.50" cy="148.10" r="1.8" fill="#111"/>
<path d="M453.60,62.20 L453.60,55.60 L475.70,55.60 L475.70,62.20" fill="none" stroke="#1e1e1e" stroke-width="1.1"/>
<path d="M480.60,62.20 L480.60,55.60 L503.30,55.60 L503.30,62.20" fill="none" stroke="#1e1e1e" stroke-width="1.1"/>
<text x="465.00" y="55.60" font-size="11" text-anchor="middle" fill="#1e1e1e" textLength="7.20" lengthAdjust="spacingAndGlyphs">**</text>
<text x="491.80" y="55.60" font-size="11" text-anchor="middle" fill="#1e1e1e" textLength="7.20" lengthAdjust="spacingAndGlyphs">**</text>
<text x="430.60" y="187.80" font-size="9.3" text-anchor="end" font-weight="normal" fill="#2a2a2a" stroke="#2a2a2a" stroke-width="0.12" textLength="44.40" lengthAdjust="spacingAndGlyphs">S100A8/A9</text>
<text x="430.60" y="199.20" font-size="9.3" text-anchor="end" font-weight="normal" fill="#2a2a2a" stroke="#2a2a2a" stroke-width="0.12" textLength="27.70" lengthAdjust="spacingAndGlyphs">rGPIbα</text>
<line x1="451.90" y1="184.90" x2="455.90" y2="184.90" stroke="#555" stroke-width="0.9"/>
<line x1="451.90" y1="196.30" x2="455.90" y2="196.30" stroke="#555" stroke-width="0.9"/>
<line x1="476.30" y1="184.90" x2="480.70" y2="184.90" stroke="#555" stroke-width="0.9"/>
<line x1="478.50" y1="182.70" x2="478.50" y2="187.10" stroke="#555" stroke-width="0.9"/>
<line x1="476.50" y1="196.30" x2="480.50" y2="196.30" stroke="#555" stroke-width="0.9"/>
<line x1="500.80" y1="184.90" x2="505.20" y2="184.90" stroke="#555" stroke-width="0.9"/>
<line x1="503.00" y1="182.70" x2="503.00" y2="187.10" stroke="#555" stroke-width="0.9"/>
<line x1="500.80" y1="196.30" x2="505.20" y2="196.30" stroke="#555" stroke-width="0.9"/>
<line x1="503.00" y1="194.10" x2="503.00" y2="198.50" stroke="#555" stroke-width="0.9"/>
<text transform="translate(407.00,110.10) rotate(-90)" x="0" y="0" font-size="10" text-anchor="middle" fill="#2a2a2a" stroke="#2a2a2a" stroke-width="0.12" textLength="51.00" lengthAdjust="spacingAndGlyphs">P-selectin MFI</text>
<text transform="translate(418.60,110.60) rotate(-90)" x="0" y="0" font-size="10" text-anchor="middle" fill="#2a2a2a" stroke="#2a2a2a" stroke-width="0.12" textLength="50.00" lengthAdjust="spacingAndGlyphs">(fold change)</text>
<rect x="276.10" y="390.60" width="13.00" height="8.20" fill="#d4d4d4"/>
<rect x="297.60" y="295.60" width="12.80" height="103.20" fill="#12a1a3"/>
<rect x="319.30" y="390.00" width="13.20" height="8.80" fill="#126277"/>
<line x1="304.00" y1="291.00" x2="304.00" y2="298.20" stroke="#1e1e1e" stroke-width="1.0"/>
<line x1="300.60" y1="291.00" x2="307.40" y2="291.00" stroke="#1e1e1e" stroke-width="1.0"/>
<line x1="300.60" y1="298.20" x2="307.40" y2="298.20" stroke="#1e1e1e" stroke-width="1.0"/>
<line x1="267.60" y1="286.70" x2="267.60" y2="399.45" stroke="#1e1e1e" stroke-width="1.3"/>
<line x1="266.95" y1="398.80" x2="340.80" y2="398.80" stroke="#1e1e1e" stroke-width="1.3"/>
<line x1="263.80" y1="289.90" x2="267.60" y2="289.90" stroke="#1e1e1e" stroke-width="1.1"/>
<text x="260.80" y="292.90" font-size="9.4" text-anchor="end" font-weight="normal" fill="#2a2a2a" stroke="#2a2a2a" stroke-width="0.12" textLength="13.40" lengthAdjust="spacingAndGlyphs">100</text>
<line x1="263.80" y1="344.35" x2="267.60" y2="344.35" stroke="#1e1e1e" stroke-width="1.1"/>
<text x="260.80" y="347.35" font-size="9.4" text-anchor="end" font-weight="normal" fill="#2a2a2a" stroke="#2a2a2a" stroke-width="0.12" textLength="9.30" lengthAdjust="spacingAndGlyphs">50</text>
<line x1="263.80" y1="398.80" x2="267.60" y2="398.80" stroke="#1e1e1e" stroke-width="1.1"/>
<text x="260.80" y="401.80" font-size="9.4" text-anchor="end" font-weight="normal" fill="#2a2a2a" stroke="#2a2a2a" stroke-width="0.12" textLength="4.20" lengthAdjust="spacingAndGlyphs">0</text>
<line x1="282.40" y1="398.80" x2="282.40" y2="402.20" stroke="#1e1e1e" stroke-width="1.0"/>
<line x1="304.00" y1="398.80" x2="304.00" y2="402.20" stroke="#1e1e1e" stroke-width="1.0"/>
<line x1="325.80" y1="398.80" x2="325.80" y2="402.20" stroke="#1e1e1e" stroke-width="1.0"/>
<circle cx="276.90" cy="391.70" r="1.8" fill="#111"/>
<circle cx="282.30" cy="388.60" r="1.8" fill="#111"/>
<circle cx="288.00" cy="389.10" r="1.8" fill="#111"/>
<circle cx="300.50" cy="289.80" r="1.8" fill="#111"/>
<circle cx="307.20" cy="291.70" r="1.8" fill="#111"/>
<circle cx="304.00" cy="301.80" r="1.8" fill="#111"/>
<circle cx="320.10" cy="389.60" r="1.8" fill="#111"/>
<circle cx="325.60" cy="389.60" r="1.8" fill="#111"/>
<circle cx="331.30" cy="389.60" r="1.8" fill="#111"/>
<path d="M282.40,283.80 L282.40,277.00 L304.00,277.00 L304.00,283.80" fill="none" stroke="#1e1e1e" stroke-width="1.1"/>
<path d="M304.00,259.50 L304.00,253.80 L325.80,253.80 L325.80,259.50" fill="none" stroke="#1e1e1e" stroke-width="1.1"/>
<text x="293.20" y="277.10" font-size="11" text-anchor="middle" fill="#1e1e1e" textLength="14.40" lengthAdjust="spacingAndGlyphs">****</text>
<text x="315.10" y="254.30" font-size="11" text-anchor="middle" fill="#1e1e1e" textLength="14.40" lengthAdjust="spacingAndGlyphs">****</text>
<text x="260.60" y="414.30" font-size="9.3" text-anchor="end" font-weight="normal" fill="#2a2a2a" stroke="#2a2a2a" stroke-width="0.12" textLength="44.40" lengthAdjust="spacingAndGlyphs">S100A8/A9</text>
<text x="260.60" y="426.60" font-size="9.3" text-anchor="end" font-weight="normal" fill="#2a2a2a" stroke="#2a2a2a" stroke-width="0.12" textLength="27.70" lengthAdjust="spacingAndGlyphs">rGPIbα</text>
<line x1="280.40" y1="411.40" x2="284.40" y2="411.40" stroke="#555" stroke-width="0.9"/>
<line x1="280.40" y1="423.70" x2="284.40" y2="423.70" stroke="#555" stroke-width="0.9"/>
<line x1="301.80" y1="411.40" x2="306.20" y2="411.40" stroke="#555" stroke-width="0.9"/>
<line x1="304.00" y1="409.20" x2="304.00" y2="413.60" stroke="#555" stroke-width="0.9"/>
<line x1="302.00" y1="423.70" x2="306.00" y2="423.70" stroke="#555" stroke-width="0.9"/>
<line x1="323.60" y1="411.40" x2="328.00" y2="411.40" stroke="#555" stroke-width="0.9"/>
<line x1="325.80" y1="409.20" x2="325.80" y2="413.60" stroke="#555" stroke-width="0.9"/>
<line x1="323.60" y1="423.70" x2="328.00" y2="423.70" stroke="#555" stroke-width="0.9"/>
<line x1="325.80" y1="421.50" x2="325.80" y2="425.90" stroke="#555" stroke-width="0.9"/>
<text transform="translate(238.30,344.50) rotate(-90)" x="0" y="0" font-size="10" text-anchor="middle" fill="#2a2a2a" stroke="#2a2a2a" stroke-width="0.12" textLength="86.00" lengthAdjust="spacingAndGlyphs">CD41<tspan font-size="6.5" dy="-3.6">+</tspan><tspan dy="3.6"> Annexin-V<tspan font-size="6.5" dy="-3.6">+</tspan><tspan dy="3.6"> (%)</tspan></tspan></text>
<rect x="446.90" y="384.30" width="14.40" height="15.20" fill="#d4d4d4"/>
<rect x="471.10" y="308.20" width="14.80" height="91.30" fill="#12a1a3"/>
<rect x="495.60" y="384.30" width="14.90" height="15.20" fill="#126277"/>
<line x1="478.50" y1="300.50" x2="478.50" y2="313.80" stroke="#1e1e1e" stroke-width="1.0"/>
<line x1="474.70" y1="300.50" x2="482.30" y2="300.50" stroke="#1e1e1e" stroke-width="1.0"/>
<line x1="474.70" y1="313.80" x2="482.30" y2="313.80" stroke="#1e1e1e" stroke-width="1.0"/>
<line x1="437.70" y1="273.50" x2="437.70" y2="400.15" stroke="#1e1e1e" stroke-width="1.3"/>
<line x1="437.05" y1="399.50" x2="520.00" y2="399.50" stroke="#1e1e1e" stroke-width="1.3"/>
<line x1="433.90" y1="276.70" x2="437.70" y2="276.70" stroke="#1e1e1e" stroke-width="1.1"/>
<text x="430.60" y="279.70" font-size="9.4" text-anchor="end" font-weight="normal" fill="#2a2a2a" stroke="#2a2a2a" stroke-width="0.12" textLength="4.80" lengthAdjust="spacingAndGlyphs">8</text>
<line x1="433.90" y1="307.40" x2="437.70" y2="307.40" stroke="#1e1e1e" stroke-width="1.1"/>
<text x="430.60" y="310.40" font-size="9.4" text-anchor="end" font-weight="normal" fill="#2a2a2a" stroke="#2a2a2a" stroke-width="0.12" textLength="4.40" lengthAdjust="spacingAndGlyphs">6</text>
<line x1="433.90" y1="338.10" x2="437.70" y2="338.10" stroke="#1e1e1e" stroke-width="1.1"/>
<text x="430.60" y="341.10" font-size="9.4" text-anchor="end" font-weight="normal" fill="#2a2a2a" stroke="#2a2a2a" stroke-width="0.12" textLength="4.40" lengthAdjust="spacingAndGlyphs">4</text>
<line x1="433.90" y1="368.80" x2="437.70" y2="368.80" stroke="#1e1e1e" stroke-width="1.1"/>
<text x="430.60" y="371.80" font-size="9.4" text-anchor="end" font-weight="normal" fill="#2a2a2a" stroke="#2a2a2a" stroke-width="0.12" textLength="4.40" lengthAdjust="spacingAndGlyphs">2</text>
<line x1="433.90" y1="399.50" x2="437.70" y2="399.50" stroke="#1e1e1e" stroke-width="1.1"/>
<text x="430.60" y="402.50" font-size="9.4" text-anchor="end" font-weight="normal" fill="#2a2a2a" stroke="#2a2a2a" stroke-width="0.12" textLength="4.20" lengthAdjust="spacingAndGlyphs">0</text>
<line x1="453.90" y1="399.50" x2="453.90" y2="402.90" stroke="#1e1e1e" stroke-width="1.0"/>
<line x1="478.50" y1="399.50" x2="478.50" y2="402.90" stroke="#1e1e1e" stroke-width="1.0"/>
<line x1="503.00" y1="399.50" x2="503.00" y2="402.90" stroke="#1e1e1e" stroke-width="1.0"/>
<circle cx="447.70" cy="384.30" r="1.8" fill="#111"/>
<circle cx="453.80" cy="384.30" r="1.8" fill="#111"/>
<circle cx="460.40" cy="384.30" r="1.8" fill="#111"/>
<circle cx="478.40" cy="295.60" r="1.8" fill="#111"/>
<circle cx="478.40" cy="307.40" r="1.8" fill="#111"/>
<circle cx="478.40" cy="318.50" r="1.8" fill="#111"/>
<circle cx="497.00" cy="384.30" r="1.8" fill="#111"/>
<circle cx="503.00" cy="384.30" r="1.8" fill="#111"/>
<circle cx="509.30" cy="384.30" r="1.8" fill="#111"/>
<path d="M453.90,287.50 L453.90,281.30 L478.50,281.30 L478.50,287.50" fill="none" stroke="#1e1e1e" stroke-width="1.1"/>
<path d="M478.50,262.50 L478.50,255.00 L503.20,255.00 L503.20,262.50" fill="none" stroke="#1e1e1e" stroke-width="1.1"/>
<text x="466.20" y="282.60" font-size="11" text-anchor="middle" fill="#1e1e1e" textLength="14.40" lengthAdjust="spacingAndGlyphs">****</text>
<text x="491.20" y="255.80" font-size="11" text-anchor="middle" fill="#1e1e1e" textLength="14.40" lengthAdjust="spacingAndGlyphs">****</text>
<text x="430.20" y="415.20" font-size="9.3" text-anchor="end" font-weight="normal" fill="#2a2a2a" stroke="#2a2a2a" stroke-width="0.12" textLength="44.40" lengthAdjust="spacingAndGlyphs">S100A8/A9</text>
<text x="430.20" y="427.40" font-size="9.3" text-anchor="end" font-weight="normal" fill="#2a2a2a" stroke="#2a2a2a" stroke-width="0.12" textLength="27.70" lengthAdjust="spacingAndGlyphs">rGPIbα</text>
<line x1="451.90" y1="412.30" x2="455.90" y2="412.30" stroke="#555" stroke-width="0.9"/>
<line x1="451.90" y1="424.50" x2="455.90" y2="424.50" stroke="#555" stroke-width="0.9"/>
<line x1="476.30" y1="412.30" x2="480.70" y2="412.30" stroke="#555" stroke-width="0.9"/>
<line x1="478.50" y1="410.10" x2="478.50" y2="414.50" stroke="#555" stroke-width="0.9"/>
<line x1="476.50" y1="424.50" x2="480.50" y2="424.50" stroke="#555" stroke-width="0.9"/>
<line x1="500.80" y1="412.30" x2="505.20" y2="412.30" stroke="#555" stroke-width="0.9"/>
<line x1="503.00" y1="410.10" x2="503.00" y2="414.50" stroke="#555" stroke-width="0.9"/>
<line x1="500.80" y1="424.50" x2="505.20" y2="424.50" stroke="#555" stroke-width="0.9"/>
<line x1="503.00" y1="422.30" x2="503.00" y2="426.70" stroke="#555" stroke-width="0.9"/>
<text transform="translate(407.20,338.90) rotate(-90)" x="0" y="0" font-size="10" text-anchor="middle" fill="#2a2a2a" stroke="#2a2a2a" stroke-width="0.12" textLength="52.50" lengthAdjust="spacingAndGlyphs">Annexin-V MFI</text>
<text transform="translate(418.60,339.10) rotate(-90)" x="0" y="0" font-size="10" text-anchor="middle" fill="#2a2a2a" stroke="#2a2a2a" stroke-width="0.12" textLength="50.00" lengthAdjust="spacingAndGlyphs">(fold change)</text>
<rect x="276.80" y="609.90" width="14.00" height="0.70" fill="#d4d4d4"/>
<rect x="301.30" y="507.70" width="14.50" height="102.90" fill="#12a1a3"/>
<rect x="326.00" y="609.70" width="14.00" height="0.90" fill="#126277"/>
<line x1="308.50" y1="501.80" x2="308.50" y2="512.50" stroke="#1e1e1e" stroke-width="1.0"/>
<line x1="304.90" y1="501.80" x2="312.10" y2="501.80" stroke="#1e1e1e" stroke-width="1.0"/>
<line x1="304.90" y1="512.50" x2="312.10" y2="512.50" stroke="#1e1e1e" stroke-width="1.0"/>
<line x1="267.60" y1="484.70" x2="267.60" y2="611.25" stroke="#1e1e1e" stroke-width="1.3"/>
<line x1="266.95" y1="610.60" x2="349.50" y2="610.60" stroke="#1e1e1e" stroke-width="1.3"/>
<line x1="263.80" y1="487.90" x2="267.60" y2="487.90" stroke="#1e1e1e" stroke-width="1.1"/>
<text x="260.90" y="490.90" font-size="9.4" text-anchor="end" font-weight="normal" fill="#2a2a2a" stroke="#2a2a2a" stroke-width="0.12" textLength="13.40" lengthAdjust="spacingAndGlyphs">100</text>
<line x1="263.80" y1="549.25" x2="267.60" y2="549.25" stroke="#1e1e1e" stroke-width="1.1"/>
<text x="260.90" y="552.25" font-size="9.4" text-anchor="end" font-weight="normal" fill="#2a2a2a" stroke="#2a2a2a" stroke-width="0.12" textLength="9.30" lengthAdjust="spacingAndGlyphs">50</text>
<line x1="263.80" y1="610.60" x2="267.60" y2="610.60" stroke="#1e1e1e" stroke-width="1.1"/>
<text x="260.90" y="613.60" font-size="9.4" text-anchor="end" font-weight="normal" fill="#2a2a2a" stroke="#2a2a2a" stroke-width="0.12" textLength="4.20" lengthAdjust="spacingAndGlyphs">0</text>
<line x1="283.80" y1="610.60" x2="283.80" y2="614.00" stroke="#1e1e1e" stroke-width="1.0"/>
<line x1="308.50" y1="610.60" x2="308.50" y2="614.00" stroke="#1e1e1e" stroke-width="1.0"/>
<line x1="333.00" y1="610.60" x2="333.00" y2="614.00" stroke="#1e1e1e" stroke-width="1.0"/>
<circle cx="277.70" cy="610.80" r="1.8" fill="#111"/>
<circle cx="283.80" cy="610.00" r="1.8" fill="#111"/>
<circle cx="290.40" cy="610.80" r="1.8" fill="#111"/>
<circle cx="308.60" cy="496.70" r="1.8" fill="#111"/>
<circle cx="305.00" cy="512.00" r="1.8" fill="#111"/>
<circle cx="312.10" cy="512.00" r="1.8" fill="#111"/>
<circle cx="326.80" cy="610.30" r="1.8" fill="#111"/>
<circle cx="333.00" cy="610.00" r="1.8" fill="#111"/>
<circle cx="339.30" cy="610.30" r="1.8" fill="#111"/>
<path d="M283.80,489.50 L283.80,482.00 L308.50,482.00 L308.50,489.50" fill="none" stroke="#1e1e1e" stroke-width="1.1"/>
<path d="M308.50,463.40 L308.50,456.30 L333.00,456.30 L333.00,463.40" fill="none" stroke="#1e1e1e" stroke-width="1.1"/>
<text x="296.20" y="482.60" font-size="11" text-anchor="middle" fill="#1e1e1e" textLength="14.40" lengthAdjust="spacingAndGlyphs">****</text>
<text x="321.20" y="457.00" font-size="11" text-anchor="middle" fill="#1e1e1e" textLength="14.40" lengthAdjust="spacingAndGlyphs">****</text>
<text x="260.20" y="626.60" font-size="9.3" text-anchor="end" font-weight="normal" fill="#2a2a2a" stroke="#2a2a2a" stroke-width="0.12" textLength="44.40" lengthAdjust="spacingAndGlyphs">S100A8/A9</text>
<text x="260.20" y="638.60" font-size="9.3" text-anchor="end" font-weight="normal" fill="#2a2a2a" stroke="#2a2a2a" stroke-width="0.12" textLength="27.70" lengthAdjust="spacingAndGlyphs">rGPIbα</text>
<line x1="281.80" y1="623.70" x2="285.80" y2="623.70" stroke="#555" stroke-width="0.9"/>
<line x1="281.80" y1="635.70" x2="285.80" y2="635.70" stroke="#555" stroke-width="0.9"/>
<line x1="306.30" y1="623.70" x2="310.70" y2="623.70" stroke="#555" stroke-width="0.9"/>
<line x1="308.50" y1="621.50" x2="308.50" y2="625.90" stroke="#555" stroke-width="0.9"/>
<line x1="306.50" y1="635.70" x2="310.50" y2="635.70" stroke="#555" stroke-width="0.9"/>
<line x1="330.80" y1="623.70" x2="335.20" y2="623.70" stroke="#555" stroke-width="0.9"/>
<line x1="333.00" y1="621.50" x2="333.00" y2="625.90" stroke="#555" stroke-width="0.9"/>
<line x1="330.80" y1="635.70" x2="335.20" y2="635.70" stroke="#555" stroke-width="0.9"/>
<line x1="333.00" y1="633.50" x2="333.00" y2="637.90" stroke="#555" stroke-width="0.9"/>
<text transform="translate(238.70,548.60) rotate(-90)" x="0" y="0" font-size="10" text-anchor="middle" fill="#2a2a2a" stroke="#2a2a2a" stroke-width="0.12" textLength="99.00" lengthAdjust="spacingAndGlyphs">CD41<tspan font-size="6.5" dy="-3.6">+</tspan><tspan dy="3.6"> CD61<tspan font-size="6.5" dy="-3.6">+</tspan><tspan dy="3.6"> PAC-1<tspan font-size="6.5" dy="-3.6">+</tspan><tspan dy="3.6"> (%)</tspan></tspan></tspan></text>
<rect x="446.60" y="597.10" width="15.20" height="13.50" fill="#d4d4d4"/>
<rect x="471.10" y="548.00" width="14.80" height="62.60" fill="#12a1a3"/>
<rect x="495.60" y="602.30" width="14.80" height="8.30" fill="#126277"/>
<line x1="454.00" y1="587.70" x2="454.00" y2="604.30" stroke="#1e1e1e" stroke-width="1.0"/>
<line x1="450.20" y1="587.70" x2="457.80" y2="587.70" stroke="#1e1e1e" stroke-width="1.0"/>
<line x1="450.20" y1="604.30" x2="457.80" y2="604.30" stroke="#1e1e1e" stroke-width="1.0"/>
<line x1="478.50" y1="536.20" x2="478.50" y2="557.20" stroke="#1e1e1e" stroke-width="1.0"/>
<line x1="474.70" y1="536.20" x2="482.30" y2="536.20" stroke="#1e1e1e" stroke-width="1.0"/>
<line x1="474.70" y1="557.20" x2="482.30" y2="557.20" stroke="#1e1e1e" stroke-width="1.0"/>
<line x1="503.10" y1="596.60" x2="503.10" y2="608.00" stroke="#1e1e1e" stroke-width="1.0"/>
<line x1="501.30" y1="596.60" x2="504.90" y2="596.60" stroke="#1e1e1e" stroke-width="1.0"/>
<line x1="501.30" y1="608.00" x2="504.90" y2="608.00" stroke="#1e1e1e" stroke-width="1.0"/>
<line x1="437.60" y1="484.70" x2="437.60" y2="611.25" stroke="#1e1e1e" stroke-width="1.3"/>
<line x1="436.95" y1="610.60" x2="520.00" y2="610.60" stroke="#1e1e1e" stroke-width="1.3"/>
<line x1="433.80" y1="487.90" x2="437.60" y2="487.90" stroke="#1e1e1e" stroke-width="1.1"/>
<text x="431.00" y="490.90" font-size="9.4" text-anchor="end" font-weight="normal" fill="#2a2a2a" stroke="#2a2a2a" stroke-width="0.12" textLength="13.40" lengthAdjust="spacingAndGlyphs">100</text>
<line x1="433.80" y1="549.25" x2="437.60" y2="549.25" stroke="#1e1e1e" stroke-width="1.1"/>
<text x="431.00" y="552.25" font-size="9.4" text-anchor="end" font-weight="normal" fill="#2a2a2a" stroke="#2a2a2a" stroke-width="0.12" textLength="9.30" lengthAdjust="spacingAndGlyphs">50</text>
<line x1="433.80" y1="610.60" x2="437.60" y2="610.60" stroke="#1e1e1e" stroke-width="1.1"/>
<text x="431.00" y="613.60" font-size="9.4" text-anchor="end" font-weight="normal" fill="#2a2a2a" stroke="#2a2a2a" stroke-width="0.12" textLength="4.20" lengthAdjust="spacingAndGlyphs">0</text>
<line x1="454.10" y1="610.60" x2="454.10" y2="614.00" stroke="#1e1e1e" stroke-width="1.0"/>
<line x1="478.50" y1="610.60" x2="478.50" y2="614.00" stroke="#1e1e1e" stroke-width="1.0"/>
<line x1="503.10" y1="610.60" x2="503.10" y2="614.00" stroke="#1e1e1e" stroke-width="1.0"/>
<circle cx="454.00" cy="583.40" r="1.8" fill="#111"/>
<circle cx="454.00" cy="593.80" r="1.8" fill="#111"/>
<circle cx="454.00" cy="610.50" r="1.8" fill="#111"/>
<circle cx="478.50" cy="526.50" r="1.8" fill="#111"/>
<circle cx="478.50" cy="552.60" r="1.8" fill="#111"/>
<circle cx="478.50" cy="561.80" r="1.8" fill="#111"/>
<circle cx="499.20" cy="595.40" r="1.8" fill="#111"/>
<circle cx="506.50" cy="598.20" r="1.8" fill="#111"/>
<circle cx="503.10" cy="610.20" r="1.8" fill="#111"/>
<path d="M454.00,518.60 L454.00,511.80 L476.00,511.80 L476.00,518.60" fill="none" stroke="#1e1e1e" stroke-width="1.1"/>
<path d="M480.60,518.60 L480.60,511.80 L503.50,511.80 L503.50,518.60" fill="none" stroke="#1e1e1e" stroke-width="1.1"/>
<text x="465.00" y="512.00" font-size="11" text-anchor="middle" fill="#1e1e1e" textLength="7.20" lengthAdjust="spacingAndGlyphs">**</text>
<text x="492.00" y="512.00" font-size="11" text-anchor="middle" fill="#1e1e1e" textLength="7.20" lengthAdjust="spacingAndGlyphs">**</text>
<text x="430.20" y="627.00" font-size="9.3" text-anchor="end" font-weight="normal" fill="#2a2a2a" stroke="#2a2a2a" stroke-width="0.12" textLength="44.40" lengthAdjust="spacingAndGlyphs">S100A8/A9</text>
<text x="430.20" y="638.60" font-size="9.3" text-anchor="end" font-weight="normal" fill="#2a2a2a" stroke="#2a2a2a" stroke-width="0.12" textLength="27.70" lengthAdjust="spacingAndGlyphs">rGPIbα</text>
<line x1="452.10" y1="624.10" x2="456.10" y2="624.10" stroke="#555" stroke-width="0.9"/>
<line x1="452.10" y1="635.70" x2="456.10" y2="635.70" stroke="#555" stroke-width="0.9"/>
<line x1="476.30" y1="624.10" x2="480.70" y2="624.10" stroke="#555" stroke-width="0.9"/>
<line x1="478.50" y1="621.90" x2="478.50" y2="626.30" stroke="#555" stroke-width="0.9"/>
<line x1="476.50" y1="635.70" x2="480.50" y2="635.70" stroke="#555" stroke-width="0.9"/>
<line x1="500.90" y1="624.10" x2="505.30" y2="624.10" stroke="#555" stroke-width="0.9"/>
<line x1="503.10" y1="621.90" x2="503.10" y2="626.30" stroke="#555" stroke-width="0.9"/>
<line x1="500.90" y1="635.70" x2="505.30" y2="635.70" stroke="#555" stroke-width="0.9"/>
<line x1="503.10" y1="633.50" x2="503.10" y2="637.90" stroke="#555" stroke-width="0.9"/>
<text transform="translate(408.60,550.60) rotate(-90)" x="0" y="0" font-size="10" text-anchor="middle" fill="#2a2a2a" stroke="#2a2a2a" stroke-width="0.12" textLength="98.00" lengthAdjust="spacingAndGlyphs">MV CD41<tspan font-size="6.5" dy="-3.6">+</tspan><tspan dy="3.6"> Annexin V<tspan font-size="6.5" dy="-3.6">+</tspan><tspan dy="3.6"> (%)</tspan></tspan></text>
</svg>
</body></html>
